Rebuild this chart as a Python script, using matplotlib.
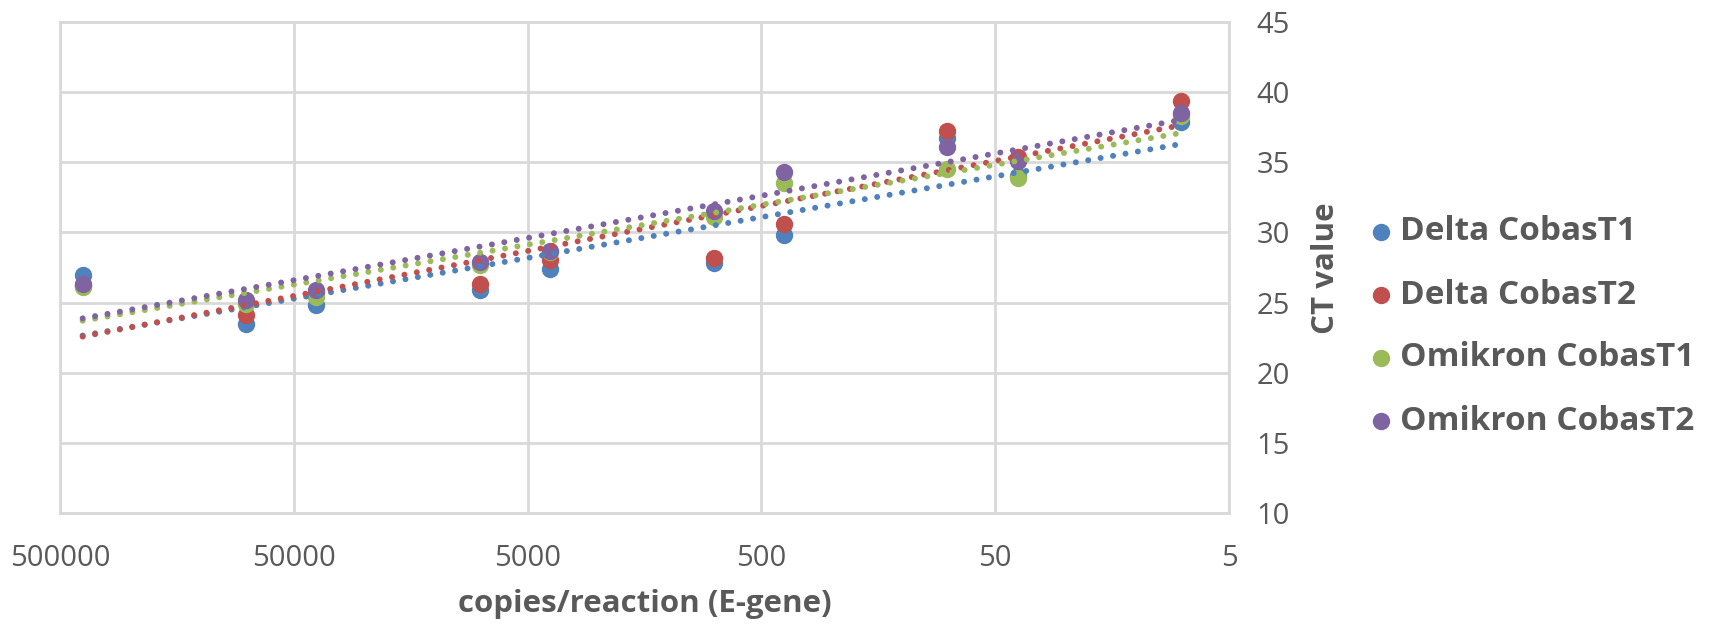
import matplotlib.pyplot as plt
from matplotlib.lines import Line2D
import numpy as np

plt.rcParams['font.family'] = ['Open Sans', 'DejaVu Sans']

copies = [400000, 80000, 40000, 8000, 4000, 800, 400, 80, 40, 8]
delta_t1 = [27.0, 23.5, 24.8, 25.9, 27.4, 27.8, 29.8, 36.7, 34.0, 37.9]
delta_t2 = [26.2, 24.1, 25.7, 26.3, 28.0, 28.2, 30.6, 37.2, 35.4, 39.4]
omikron_t1 = [26.1, 24.9, 25.4, 27.7, 28.6, 31.1, 33.5, 34.5, 33.9, 38.3]
omikron_t2 = [26.3, 25.2, 25.9, 27.9, 28.7, 31.5, 34.3, 36.1, 35.1, 38.5]

names = ["Delta CobasT1", "Delta CobasT2", "Omikron CobasT1", "Omikron CobasT2"]
series = [delta_t1, delta_t2, omikron_t1, omikron_t2]
colors = ["#4F81BD", "#C0504D", "#9BBB59", "#8064A2"]
xticks = [500000, 50000, 5000, 500, 50, 5]

grey = "#595959"
grid = "#D9D9D9"
W, H = 1713, 628

fig = plt.figure(figsize=(W / 100, H / 100), dpi=100)
ax = fig.add_axes([60 / W, 1 - 513 / H, 1169 / W, 491 / H])

x = np.array(copies, dtype=float)
for ys, c in zip(series, colors):
    ax.plot(x, ys, 'o', color=c, markersize=11.5, zorder=3)

# logarithmic trendlines (y = a*ln(x) + b), as in Excel
xs = np.logspace(np.log10(x.max()), np.log10(x.min()), 200)
for ys, c in zip(series, colors):
    a, b = np.polyfit(np.log(x), ys, 1)
    ax.plot(xs, a * np.log(xs) + b, color=c, linewidth=4.3,
            linestyle=(0, (0.01, 2.1)), dash_capstyle='round', zorder=4)

ax.set_xscale('log')
ax.set_xlim(500000, 5)
ax.set_ylim(10, 45)
ax.set_xticks(xticks)
ax.set_xticklabels([str(t) for t in xticks])
ax.xaxis.set_minor_locator(plt.NullLocator())
ax.set_yticks(range(10, 46, 5))
ax.yaxis.tick_right()
ax.tick_params(axis='both', length=0, labelsize=21, labelcolor=grey)
ax.tick_params(axis='x', pad=22)
ax.tick_params(axis='y', pad=20)
ax.grid(True, color=grid, linewidth=2)
ax.set_axisbelow(True)
for s in ax.spines.values():
    s.set_color(grid)
    s.set_linewidth(2)

fig.text(645 / W, 1 - 604 / H, "copies/reaction (E-gene)", fontsize=22.5, fontweight='bold',
         color=grey, ha='center', va='center')
fig.text(1326 / W, 1 - 268 / H, "CT value", fontsize=22.5, fontweight='bold',
         color=grey, ha='center', va='center', rotation=90)

# legend
for i, (name, c) in enumerate(zip(names, colors)):
    yy = 1 - (232 + i * 63) / H
    fig.add_artist(Line2D([1381 / W], [yy], marker='o', color=c, markersize=11.5,
                          linestyle='none', transform=fig.transFigure))
    fig.text(1400 / W, yy, name, fontsize=24, fontweight='bold', color=grey,
             ha='left', va='center')

fig.savefig("out.png", dpi=100)
